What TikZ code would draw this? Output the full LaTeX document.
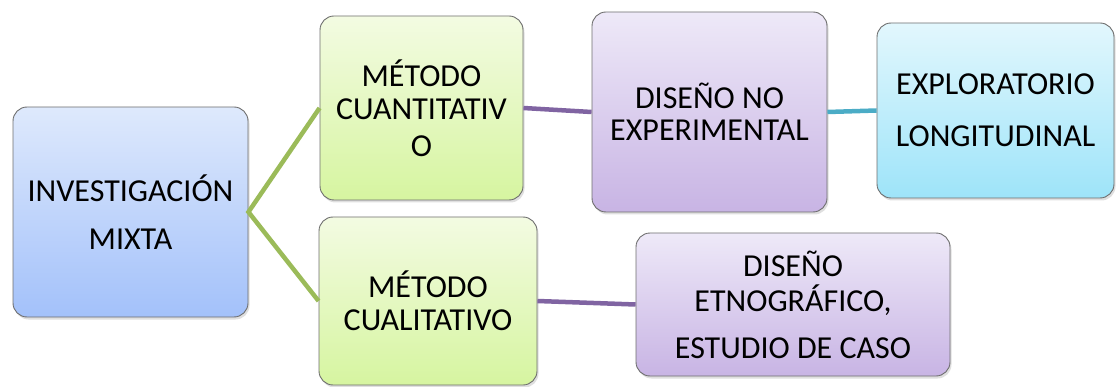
\documentclass[tikz,border=0pt]{standalone}
\usepackage{fontspec}
\setmainfont{Carlito}
\usetikzlibrary{shadows}
\definecolor{bordergray}{RGB}{110,110,110}
\definecolor{bluetop}{RGB}{222,233,252}
\definecolor{bluebot}{RGB}{163,193,250}
\definecolor{greentop}{RGB}{243,251,226}
\definecolor{greenbot}{RGB}{214,245,160}
\definecolor{purptop}{RGB}{238,233,248}
\definecolor{purpbot}{RGB}{200,180,228}
\definecolor{cyantop}{RGB}{226,247,253}
\definecolor{cyanbot}{RGB}{158,228,249}
\definecolor{linegreen}{RGB}{155,187,89}
\definecolor{linepurple}{RGB}{128,100,162}
\definecolor{lineteal}{RGB}{75,172,198}
\begin{document}
\begin{tikzpicture}[x=1pt,y=-1pt,
  box/.style={draw=bordergray, line width=0.9pt, rounded corners=14pt,
    inner sep=0pt, align=center, shading=axis,
    font=\fontsize{32}{34}\selectfont,
    drop shadow={opacity=0.25, shadow xshift=1.5pt, shadow yshift=-2.5pt}},
  bluebox/.style={box, top color=bluetop, bottom color=bluebot},
  greenbox/.style={box, top color=greentop, bottom color=greenbot},
  purpbox/.style={box, top color=purptop, bottom color=purpbot},
  cyanbox/.style={box, top color=cyantop, bottom color=cyanbot},
  conn/.style={line width=4.5pt}
]
\useasboundingbox (0,0) rectangle (1118,387);
\node[bluebox, minimum width=235pt, minimum height=210pt] (mix) at (130.5,212)
  {INVESTIGACIÓN\\[14pt]MIXTA};
\node[greenbox, minimum width=203pt, minimum height=184pt] (cuant) at (421.5,108)
  {MÉTODO\\[-1pt]CUANTITATIV\\[3pt]O};
\node[purpbox, minimum width=235pt, minimum height=200pt] (nexp) at (709.5,112)
  {DISEÑO NO\\[-2pt]EXPERIMENTAL};
\node[cyanbox, minimum width=237pt, minimum height=175pt] (expl) at (995.5,110.5)
  {EXPLORATORIO\\[18pt]LONGITUDINAL};
\node[greenbox, minimum width=218pt, minimum height=168pt] (cual) at (428,301)
  {MÉTODO\\[-1pt]CUALITATIVO};
\node[purpbox, minimum width=314pt, minimum height=143pt] (etno) at (793,304.5)
  {DISEÑO\\[1pt]ETNOGRÁFICO,\\[13pt]ESTUDIO DE CASO};
\draw[conn, linegreen] (cuant.west) -- (mix.east) -- (cual.west);
\draw[conn, linepurple] (cuant.east) -- (nexp.west);
\draw[conn, lineteal] (nexp.east) -- (expl.west);
\draw[conn, linepurple] (cual.east) -- (etno.west);
\end{tikzpicture}
\end{document}
